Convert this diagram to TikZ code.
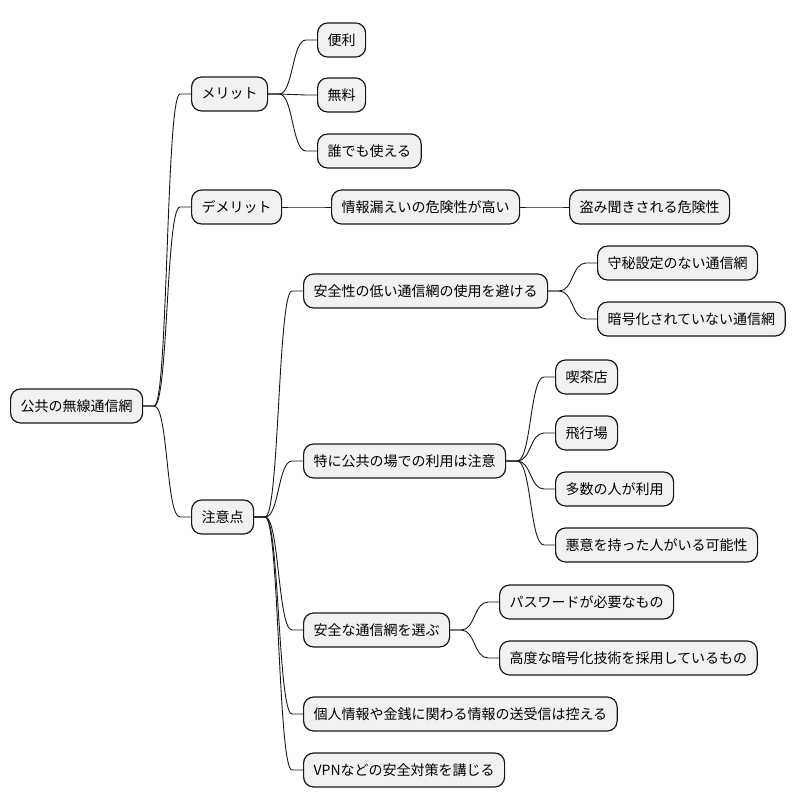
\documentclass[tikz,border=0pt]{standalone}
\usepackage{fontspec}
\setmainfont{Noto Sans CJK JP}
\definecolor{mapink}{HTML}{181818}
\definecolor{mapfill}{HTML}{F1F1F1}
% branch from a parent topic to a child topic
\newcommand\maplink[2]{\draw[conn] (#1.east) -- ++(11,0)
  .. controls +(14,0) and +(-14,0) .. ([xshift=-11pt]#2.west) -- (#2.west);}

\begin{document}
\begin{tikzpicture}[
  x=1pt,y=-1pt,
  font=\fontsize{14}{16}\selectfont,
  topic/.style={draw=mapink,fill=mapfill,line width=1.2pt,rounded corners=10pt,
                minimum height=34pt,inner xsep=10pt,inner ysep=0pt,anchor=west},
  conn/.style={draw=mapink,line width=.9pt}
]
  \path[use as bounding box] (0,0) rectangle (796,809);

  \node[topic] (root) at (10,406) {公共の無線通信網};
  \node[topic] (merit) at (191,94) {メリット};
  \node[topic] (demerit) at (191,207) {デメリット};
  \node[topic] (caution) at (191,517) {注意点};
  \foreach \n in {merit,demerit,caution}{\maplink{root}{\n}}

  % merits
  \foreach \n/\y/\t in {m1/40/便利,m2/95/無料,m3/151/誰でも使える}{
    \node[topic] (\n) at (317,\y) {\t};
    \maplink{merit}{\n}
  }

  % demerits
  \node[topic] (leak) at (331,207) {情報漏えいの危険性が高い};
  \node[topic] (tap) at (569,207) {盗み聞きされる危険性};
  \maplink{demerit}{leak}
  \maplink{leak}{tap}

  % cautions
  \node[topic] (avoid) at (303,291) {安全性の低い通信網の使用を避ける};
  \node[topic] (public) at (303,461) {特に公共の場での利用は注意};
  \node[topic] (choose) at (303,630) {安全な通信網を選ぶ};
  \node[topic] (private) at (303,714) {個人情報や金銭に関わる情報の送受信は控える};
  \node[topic] (vpn) at (303,770) {VPNなどの安全対策を講じる};
  \foreach \n in {avoid,public,choose,private,vpn}{\maplink{caution}{\n}}

  \foreach \n/\y/\t in {a1/263/守秘設定のない通信網,a2/319/暗号化されていない通信網}{
    \node[topic] (\n) at (597,\y) {\t};
    \maplink{avoid}{\n}
  }
  \foreach \n/\y/\t in {p1/377/喫茶店,p2/433/飛行場,p3/489/多数の人が利用,
                        p4/545/悪意を持った人がいる可能性}{
    \node[topic] (\n) at (555,\y) {\t};
    \maplink{public}{\n}
  }
  \foreach \n/\y/\t in {c1/602/パスワードが必要なもの,c2/658/高度な暗号化技術を採用しているもの}{
    \node[topic] (\n) at (499,\y) {\t};
    \maplink{choose}{\n}
  }
\end{tikzpicture}
\end{document}
